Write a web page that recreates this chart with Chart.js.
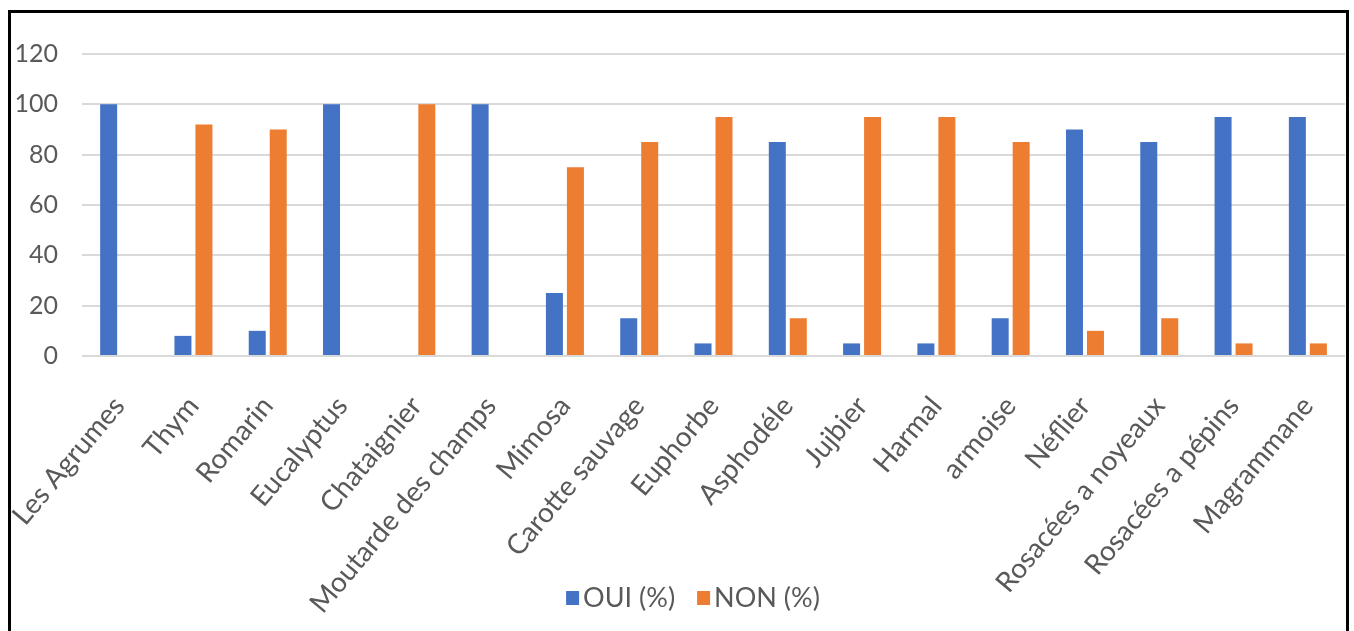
<!DOCTYPE html>
<html>
<head>
<meta charset="utf-8">
<script src="https://cdn.jsdelivr.net/npm/chart.js@4"></script>
<style>
  html, body { margin: 0; padding: 0; background: #fff; overflow: hidden; }
  #wrap { position: relative; width: 1354px; height: 631px; }
  #frame { position: absolute; left: 8px; top: 10px; width: 1335px; height: 700px;
           border: 3px solid #000; pointer-events: none; }
</style>
</head>
<body>
<div id="wrap">
  <canvas id="plantChart" width="1354" height="631"></canvas>
  <div id="frame"></div>
</div>
<script>
// plantes : réponses OUI / NON en %
const categories = ['Les Agrumes', 'Thym', 'Romarin', 'Eucalyptus', 'Chataignier', 'Moutarde des champs',
  'Mimosa', 'Carotte sauvage', 'Euphorbe', 'Asphodéle', 'Jujbier', 'Harmal', 'armoise', 'Néflier',
  'Rosacées a noyeaux', 'Rosacées a pépins', 'Magrammane'];
const ouiValues = [100, 8, 10, 100, 0, 100, 25, 15, 5, 85, 5, 5, 15, 90, 85, 95, 95];
const nonValues = [0, 92, 90, 0, 100, 0, 75, 85, 95, 15, 95, 95, 85, 10, 15, 5, 5];
const yTicks = [0, 20, 40, 60, 80, 100, 120];

const FONT = 'Lato, "Open Sans", sans-serif';
const GREY = '#595959';

// legende dessinee a la main, au milieu des etiquettes comme dans Excel
const legendPlugin = {
  id: 'midLegend',
  afterDraw(chart) {
    const c = chart.ctx;
    c.save();
    c.font = '27px ' + FONT;
    c.textBaseline = 'middle';
    const items = chart.data.datasets.map(ds => ({ text: ds.label, color: ds.backgroundColor }));
    const box = 13, gapBox = 4, gapItem = 22;
    let total = 0;
    items.forEach((it, i) => {
      total += box + gapBox + c.measureText(it.text).width + (i < items.length - 1 ? gapItem : 0);
    });
    let x = 693 - total / 2;
    const y = 598;
    items.forEach(it => {
      c.fillStyle = it.color;
      c.fillRect(x, y - 7, box, 14);
      x += box + gapBox;
      c.fillStyle = GREY;
      c.fillText(it.text, x, y);
      x += c.measureText(it.text).width + gapItem;
    });
    c.restore();
  }
};

const ctx = document.getElementById('plantChart');
const plantChart = new Chart(ctx, {
  type: 'bar',
  data: {
    labels: categories,
    datasets: [{
      label: 'OUI (%)',
      data: ouiValues,
      backgroundColor: '#4472C4',
      categoryPercentage: 0.565,
      barPercentage: 0.81
    }, {
      label: 'NON (%)',
      data: nonValues,
      backgroundColor: '#ED7D31',
      categoryPercentage: 0.565,
      barPercentage: 0.81
    }]
  },
  options: {
    responsive: false,
    animation: false,
    layout: { padding: { left: 0, right: 9, top: 54, bottom: 0 } },
    plugins: {
      legend: { display: false },
      tooltip: { enabled: false }
    },
    scales: {
      x: {
        grid: { display: false },
        border: { display: false },
        ticks: {
          color: GREY,
          font: { family: FONT, size: 28 },
          maxRotation: 50,
          minRotation: 50,
          autoSkip: false,
          padding: 26
        },
        afterFit: (axis) => {
          axis.height = 275;
          axis.paddingLeft = 0;
          axis.paddingRight = 0;
        }
      },
      y: {
        min: 0,
        max: 120,
        afterBuildTicks: (axis) => { axis.ticks = yTicks.map(v => ({ value: v })); },
        grid: { color: '#d9d9d9', lineWidth: 2, drawTicks: false },
        border: { display: false },
        ticks: {
          color: GREY,
          font: { family: FONT, size: 25 },
          padding: 24
        },
        afterFit: (axis) => { axis.width = 82; }
      }
    }
  },
  plugins: [legendPlugin]
});
</script>
</body>
</html>
